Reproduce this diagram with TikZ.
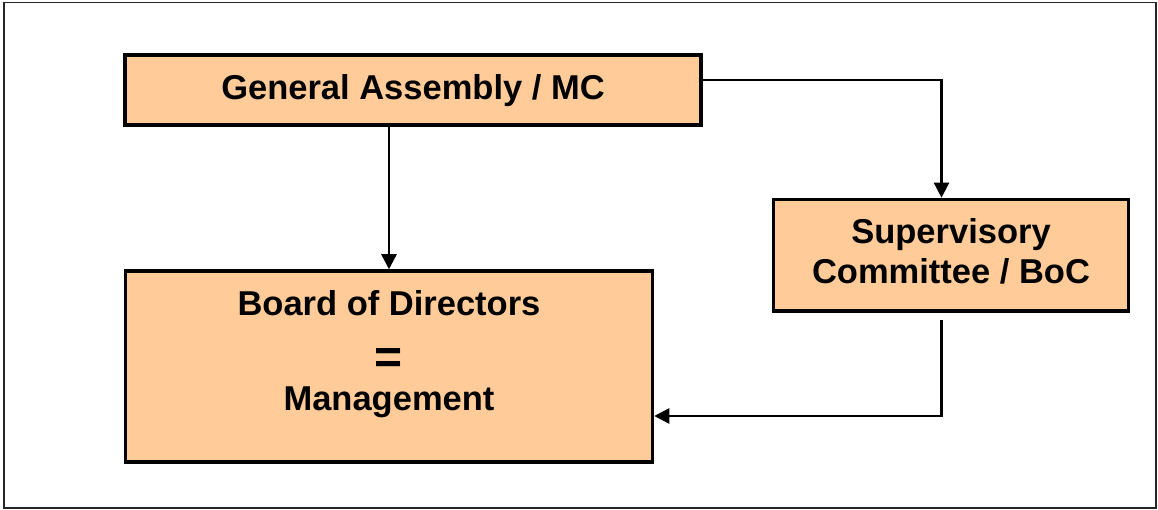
\documentclass[tikz,border=0pt]{standalone}
\usepackage{fontspec}
\setmainfont{Liberation Sans}
\usetikzlibrary{arrows.meta}
\definecolor{peach}{HTML}{FFCC99}
\tikzset{
  box/.style={draw=black, line width=3.5pt, fill=peach, inner sep=0pt},
  lbl/.style={anchor=base, inner sep=0pt, font=\fontsize{34.5}{40}\selectfont\bfseries},
  eqlbl/.style={anchor=base, inner sep=0pt, font=\fontsize{48}{50}\selectfont\bfseries},
  arr/.style={draw=black, line width=2.5pt, -{Triangle[length=15pt,width=15pt]}},
}
\begin{document}
\begin{tikzpicture}[x=1pt,y=-1pt]
\useasboundingbox (0,0) rectangle (1158,510);
\draw[black!85, line width=1.8pt] (3.7,2.5) rectangle (1156,508);
% boxes
\node[box, minimum width=576pt, minimum height=70pt] (ga) at (413,90) {};
\node[box, minimum width=355pt, minimum height=111.5pt] (sc) at (951,255.2) {};
\node[box, minimum width=527pt, minimum height=191pt] (bod) at (389,366.5) {};
% texts
\node[lbl] (gat) at (413,100) {General Assembly / MC};
\node[lbl] (sct1) at (951,244) {Supervisory};
\node[lbl] (sct2) at (951,284) {Committee / BoC};
\node[lbl] (bodt1) at (389,316) {Board of Directors};
\node[eqlbl] (bodt2) at (389,373) {=};
\node[lbl] (bodt3) at (389,410) {Management};
% connectors
\draw[arr] (ga.south -| bod.north) -- (bod.north);
\draw[arr] ([yshift=10pt]ga.east) -| ([xshift=-9.5pt]sc.north);
\coordinate (scout) at ([xshift=-9.5pt,yshift=-7pt]sc.south);
\draw[arr] (scout) |- ([yshift=-49.5pt]bod.east);
\end{tikzpicture}
\end{document}
